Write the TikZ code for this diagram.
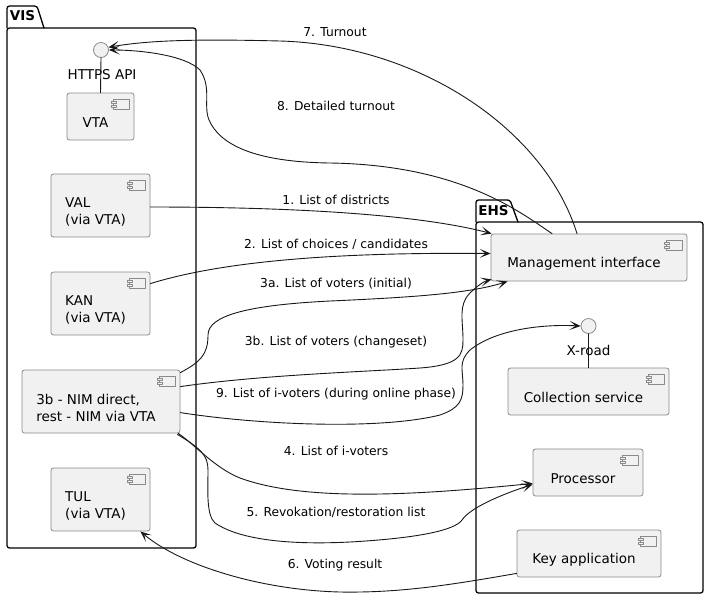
\documentclass[tikz,border=0pt]{standalone}
\usepackage{fontspec}
\setmainfont{DejaVu Sans}
\usetikzlibrary{arrows.meta,calc}

\definecolor{boxfill}{HTML}{F1F1F1}
\definecolor{boxline}{HTML}{8A8A8A}
\definecolor{edgeline}{HTML}{181818}

% little component symbol in the top right corner of a box
\newcommand{\compicon}[1]{%
\draw[icon] ($(#1.north east)+(-21,7)$) rectangle ($(#1.north east)+(-5,16.5)$);
\draw[icon] ($(#1.north east)+(-23,8.5)$) rectangle ($(#1.north east)+(-18.5,10.5)$);
\draw[icon] ($(#1.north east)+(-23,12.5)$) rectangle ($(#1.north east)+(-18.5,14.5)$);
}

\begin{document}
\begin{tikzpicture}[x=1pt,y=-1pt,line cap=round,line join=round,
  comp/.style={draw=boxline,fill=boxfill,line width=0.8pt,rounded corners=2.5pt,inner sep=0pt},
  lbl/.style={font=\fontsize{13.5}{17}\selectfont,align=left,xshift=-5pt,yshift=-6pt},
  icon/.style={draw=boxline,fill=boxfill,line width=0.6pt},
  iface/.style={circle,draw=boxline,fill=boxfill,line width=0.8pt,minimum size=15pt,inner sep=0pt},
  iflbl/.style={font=\fontsize{13.5}{16}\selectfont,inner sep=0pt},
  pkg/.style={draw=black,line width=1.3pt,rounded corners=2.5pt},
  pkglbl/.style={font=\fontsize{13.5}{16}\selectfont\bfseries,inner sep=0pt},
  elbl/.style={font=\fontsize{12.3}{15}\selectfont,inner sep=0pt},
  flow/.style={draw=edgeline,line width=0.9pt,-{Stealth[length=11pt,width=9pt,inset=6pt]}},
  stick/.style={draw=edgeline,line width=0.9pt}]
\useasboundingbox (0,0) rectangle (708,611);

% packages
\draw[pkg] (7,28) -- (7,6) -- (37,6) -- (44,28);
\draw[pkg] (7,28) rectangle (196,548);
\node[pkglbl] (vis) at (22.5,16) {VIS};
\draw[pkg] (476,222) -- (476,200) -- (510,200) -- (518,222);
\draw[pkg] (476,222) rectangle (703,593);
\node[pkglbl] (ehs) at (493.5,211) {EHS};

% VIS side
\node[iface] (api) at (101,50) {};
\node[iflbl] (apilbl) at (102,75) {HTTPS API};
\node[comp,minimum width=67,minimum height=47,label={[lbl]center:VTA}] (vta) at (100.5,116.5) {};
\node[comp,minimum width=99,minimum height=63,label={[lbl]center:{VAL\\(via VTA)}}] (val) at (100.5,205.5) {};
\node[comp,minimum width=99,minimum height=63,label={[lbl]center:{KAN\\(via VTA)}}] (kan) at (100.5,303.5) {};
\node[comp,minimum width=158,minimum height=63,label={[lbl]center:{3b - NIM direct,\\rest - NIM via VTA}}] (nim) at (101,401.5) {};
\node[comp,minimum width=99,minimum height=63,label={[lbl]center:{TUL\\(via VTA)}}] (tul) at (100.5,499.5) {};
\draw[stick] (api.south) -- (vta.north);

% EHS side
\node[comp,minimum width=196,minimum height=47,label={[lbl]center:Management interface}] (mgmt) at (589,257.5) {};
\node[iface] (xroad) at (588.5,326) {};
\node[iflbl] (xroadlbl) at (588.5,350) {X-road};
\node[comp,minimum width=161,minimum height=47,label={[lbl]center:Collection service}] (coll) at (588.5,391.5) {};
\node[comp,minimum width=110,minimum height=47,label={[lbl]center:Processor}] (proc) at (588,472.5) {};
\node[comp,minimum width=144,minimum height=47,label={[lbl]center:Key application}] (key) at (589,553.5) {};
\draw[stick] (xroad.south) -- (coll.north);

\compicon{vta}
\compicon{val}
\compicon{kan}
\compicon{nim}
\compicon{tul}
\compicon{mgmt}
\compicon{coll}
\compicon{proc}
\compicon{key}

% flows
\draw[flow] ($(val.east)+(0,1.5)$) .. controls (300,207) and (420,215) .. ($(mgmt.north west)+(1,0)$);
\draw[flow] ($(kan.north east)+(0,12)$) .. controls (220,262) and (330,252) .. ($(mgmt.west)+(0,-4)$);
\draw[flow] ($(nim.north east)+(0,3)$) .. controls (200,362) and (208,355) .. (208,335)
  .. controls (208,315) and (250,305) .. (330,301) .. controls (420,297) and (470,293) .. ($(mgmt.south west)+(17,0)$);
\draw[flow] ($(nim.north east)+(0,17)$) .. controls (260,375) and (360,372) .. (420,368)
  .. controls (460,365) and (463,355) .. (463,340) .. controls (463,320) and (458,305) .. (470,293)
  .. controls (478,285) and (485,281) .. ($(mgmt.south west)+(1,-2)$);
\draw[flow] ($(nim.north east)+(0,43)$) .. controls (260,425) and (380,430) .. (440,415)
  .. controls (460,408) and (463,400) .. (463,385) .. controls (463,370) and (458,362) .. (470,350)
  .. controls (495,330) and (540,324) .. (xroad.west);
\draw[flow] ($(nim.south east)+(-2,0)$) .. controls (195,445) and (215,468) .. (240,478)
  .. controls (300,500) and (400,497) .. ($(proc.south west)+(0,-13)$);
\draw[flow] ($(nim.south east)+(-3,1)$) .. controls (200,448) and (208,455) .. (208,470)
  .. controls (208,490) and (206,515) .. (215,523) .. controls (240,540) and (290,545) .. (350,542)
  .. controls (420,538) and (455,530) .. (462,520) .. controls (470,508) and (500,495) .. ($(proc.south west)+(0,-12)$);
\draw[flow] ($(key.south west)+(0,-4)$) .. controls (450,585) and (400,593) .. (340,592)
  .. controls (260,590) and (180,565) .. ($(tul.south east)+(-10,0)$);
\draw[flow] ($(mgmt.north)+(-12,0)$) .. controls (545,130) and (420,45) .. (280,41)
  .. controls (200,39) and (150,40) .. (api.20);
\draw[flow] ($(mgmt.north)+(-37,0)$) .. controls (520,212) and (460,165) .. (330,163)
  .. controls (255,162) and (220,145) .. (209,120) .. controls (203,105) and (212,88) .. (200,70)
  .. controls (185,55) and (140,50) .. (api.0);

% flow labels
\node[elbl] (l7) at (335,32) {7. Turnout};
\node[elbl] (l8) at (336,106) {8. Detailed turnout};
\node[elbl] (l1) at (336,200) {1. List of districts};
\node[elbl] (l2) at (336,244) {2. List of choices / candidates};
\node[elbl] (l3a) at (336,284) {3a. List of voters (initial)};
\node[elbl] (l3b) at (336,342) {3b. List of voters (changeset)};
\node[elbl] (l9) at (336,394) {9. List of i-voters (during online phase)};
\node[elbl] (l4) at (336,451) {4. List of i-voters};
\node[elbl] (l5) at (336,512) {5. Revokation/restoration list};
\node[elbl] (l6) at (335,565) {6. Voting result};
\end{tikzpicture}
\end{document}
